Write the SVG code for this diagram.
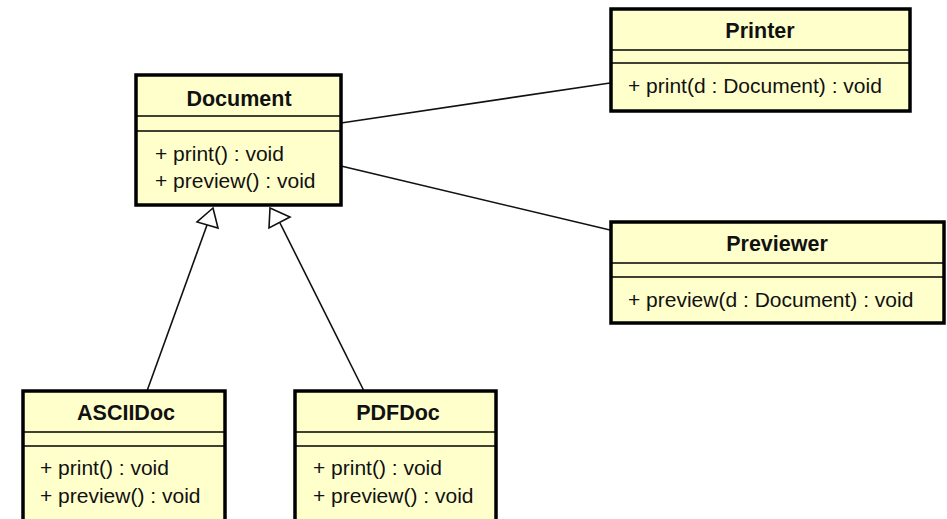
<svg xmlns="http://www.w3.org/2000/svg" width="947" height="519" viewBox="0 0 947 519">
  <defs>
    <style>
      .box { fill: #FFFFCC; stroke: #000; stroke-width: 3.5; }
      .sep { stroke: #000; stroke-width: 1.5; }
      .title { font-family: "Liberation Sans", Arial, sans-serif; font-size: 21.5px; font-weight: bold; text-anchor: middle; fill: #111; }
      .op { font-family: "Liberation Sans", Arial, sans-serif; font-size: 21px; fill: #111; }
      .edge { stroke: #111; stroke-width: 1.6; fill: none; }
      .tri { stroke: #111; stroke-width: 1.6; fill: #fff; }
    </style>
  </defs>
  <rect width="947" height="519" fill="#fff"/>

  <!-- associations and generalizations -->
  <g id="connectors">
    <line class="edge" x1="341" y1="123" x2="610" y2="83"/>
    <line class="edge" x1="341" y1="166" x2="610" y2="230"/>
    <line class="edge" x1="147" y1="391" x2="207" y2="225"/>
    <polygon class="tri" points="213,208 197,222 218,228"/>
    <line class="edge" x1="364" y1="391" x2="280" y2="223"/>
    <polygon class="tri" points="270,208 269,228 290,217"/>
  </g>

  <g id="Document">
    <rect class="box" x="136" y="75" width="205" height="130"/>
    <line class="sep" x1="136" y1="116" x2="341" y2="116"/>
    <line class="sep" x1="136" y1="131" x2="341" y2="131"/>
    <text class="title" x="239" y="106">Document</text>
    <text class="op" x="155" y="161">+ print() : void</text>
    <text class="op" x="155" y="188">+ preview() : void</text>
  </g>

  <g id="Printer">
    <rect class="box" x="611" y="9" width="299" height="102"/>
    <line class="sep" x1="611" y1="50" x2="910" y2="50"/>
    <line class="sep" x1="611" y1="63" x2="910" y2="63"/>
    <text class="title" x="760" y="38">Printer</text>
    <text class="op" x="628" y="93">+ print(d : Document) : void</text>
  </g>

  <g id="Previewer">
    <rect class="box" x="611" y="222" width="333" height="101"/>
    <line class="sep" x1="611" y1="263" x2="944" y2="263"/>
    <line class="sep" x1="611" y1="277" x2="944" y2="277"/>
    <text class="title" x="777" y="251">Previewer</text>
    <text class="op" x="628" y="307">+ preview(d : Document) : void</text>
  </g>

  <g id="ASCIIDoc">
    <rect class="box" x="23" y="391" width="202" height="140"/>
    <line class="sep" x1="23" y1="432" x2="225" y2="432"/>
    <line class="sep" x1="23" y1="446" x2="225" y2="446"/>
    <text class="title" x="126" y="420">ASCIIDoc</text>
    <text class="op" x="40" y="475">+ print() : void</text>
    <text class="op" x="40" y="503">+ preview() : void</text>
  </g>

  <g id="PDFDoc">
    <rect class="box" x="295" y="391" width="201" height="140"/>
    <line class="sep" x1="295" y1="432" x2="496" y2="432"/>
    <line class="sep" x1="295" y1="446" x2="496" y2="446"/>
    <text class="title" x="398" y="420">PDFDoc</text>
    <text class="op" x="313" y="475">+ print() : void</text>
    <text class="op" x="313" y="503">+ preview() : void</text>
  </g>
</svg>
